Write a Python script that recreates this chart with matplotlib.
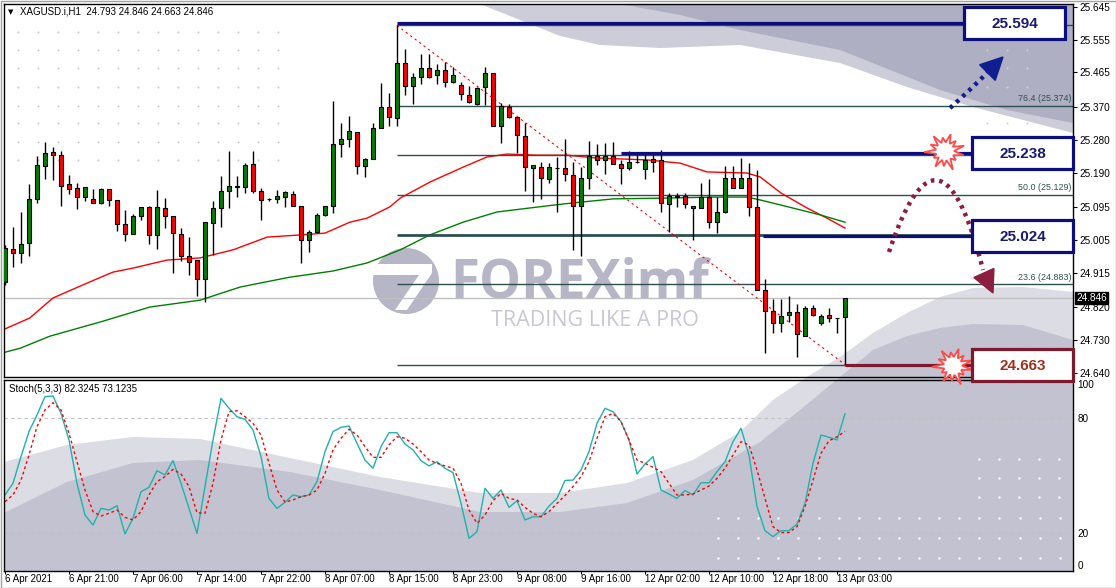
import numpy as np
import matplotlib
matplotlib.use("Agg")
import matplotlib.pyplot as plt
from matplotlib.patches import Polygon, Rectangle, Circle

plt.rcParams['font.family'] = ['Liberation Sans', 'DejaVu Sans']

# ---------------- data ----------------
opens = [24.890, 24.980, 24.969, 24.997, 25.118, 25.208, 25.247, 25.238, 25.159, 25.148,
         25.123, 25.118, 25.107, 25.145, 25.115, 25.049, 25.021, 25.071, 25.096, 25.019,
         25.093, 25.071, 25.021, 24.961, 24.950, 24.898, 25.052, 25.093, 25.140, 25.150,
         25.150, 25.214, 25.140, 25.118, 25.118, 25.123, 25.131, 25.098, 25.005, 25.027,
         25.074, 25.098, 25.269, 25.282, 25.302, 25.208, 25.227, 25.312, 25.370, 25.340,
         25.491, 25.428, 25.453, 25.477, 25.458, 25.472, 25.439, 25.431, 25.403, 25.378,
         25.425, 25.464, 25.318, 25.370, 25.343, 25.291, 25.203, 25.205, 25.172, 25.203,
         25.203, 25.183, 25.098, 25.175, 25.236, 25.225, 25.236, 25.214, 25.203, 25.219,
         25.200, 25.227, 25.225, 25.104, 25.123, 25.126, 25.098, 25.093, 25.123, 25.054,
         25.082, 25.175, 25.148, 25.175, 25.096, 24.868, 24.810, 24.777, 24.799, 24.807,
         24.741, 24.818, 24.777, 24.799, 24.791, 24.793]
highs = [24.991, 25.041, 25.082, 25.159, 25.236, 25.274, 25.260, 25.249, 25.183, 25.161,
         25.150, 25.145, 25.148, 25.145, 25.115, 25.087, 25.076, 25.096, 25.098, 25.142,
         25.120, 25.071, 25.038, 25.013, 24.950, 25.054, 25.112, 25.181, 25.249, 25.181,
         25.216, 25.249, 25.148, 25.120, 25.142, 25.140, 25.140, 25.098, 25.032, 25.079,
         25.098, 25.387, 25.326, 25.345, 25.302, 25.230, 25.326, 25.436, 25.409, 25.594,
         25.529, 25.464, 25.516, 25.516, 25.488, 25.494, 25.480, 25.439, 25.428, 25.425,
         25.480, 25.464, 25.381, 25.378, 25.343, 25.326, 25.211, 25.219, 25.216, 25.233,
         25.282, 25.219, 25.205, 25.277, 25.269, 25.271, 25.274, 25.225, 25.249, 25.238,
         25.238, 25.238, 25.252, 25.134, 25.134, 25.134, 25.098, 25.161, 25.172, 25.123,
         25.208, 25.208, 25.230, 25.216, 25.197, 24.898, 24.843, 24.843, 24.851, 24.829,
         24.824, 24.826, 24.802, 24.818, 24.792, 24.846]
lows = [24.881, 24.931, 24.942, 24.961, 25.107, 25.172, 25.170, 25.098, 25.131, 25.090,
        25.112, 25.107, 25.104, 25.098, 25.030, 25.002, 25.021, 25.060, 24.994, 24.980,
        25.038, 24.914, 24.947, 24.909, 24.851, 24.835, 24.964, 25.041, 25.093, 25.123,
        25.134, 25.134, 25.060, 25.112, 25.107, 25.096, 25.098, 24.942, 24.972, 25.024,
        25.071, 25.079, 25.233, 25.260, 25.186, 25.178, 25.227, 25.312, 25.318, 25.318,
        25.403, 25.378, 25.433, 25.450, 25.433, 25.425, 25.436, 25.389, 25.381, 25.376,
        25.376, 25.318, 25.271, 25.340, 25.244, 25.140, 25.109, 25.118, 25.161, 25.082,
        25.167, 24.978, 24.961, 25.145, 25.211, 25.186, 25.214, 25.159, 25.197, 25.216,
        25.172, 25.192, 25.082, 25.027, 25.096, 25.093, 25.005, 25.093, 25.038, 25.024,
        25.079, 25.148, 25.148, 25.071, 24.868, 24.695, 24.750, 24.752, 24.780, 24.684,
        24.741, 24.796, 24.771, 24.780, 24.750, 24.663]
closes = [24.983, 24.969, 24.994, 25.118, 25.211, 25.244, 25.238, 25.153, 25.145, 25.123,
          25.150, 25.107, 25.145, 25.115, 25.049, 25.021, 25.071, 25.096, 25.019, 25.096,
          25.071, 25.024, 24.961, 24.945, 24.898, 25.054, 25.093, 25.140, 25.153, 25.152,
          25.211, 25.140, 25.115, 25.117, 25.126, 25.137, 25.098, 25.005, 25.027, 25.074,
          25.098, 25.269, 25.282, 25.304, 25.208, 25.227, 25.312, 25.370, 25.343, 25.491,
          25.428, 25.453, 25.477, 25.453, 25.472, 25.439, 25.458, 25.406, 25.384, 25.422,
          25.464, 25.318, 25.373, 25.343, 25.293, 25.205, 25.211, 25.175, 25.205, 25.203,
          25.186, 25.098, 25.175, 25.236, 25.225, 25.236, 25.214, 25.203, 25.219, 25.220,
          25.225, 25.219, 25.107, 25.126, 25.126, 25.104, 25.093, 25.123, 25.054, 25.082,
          25.175, 25.148, 25.175, 25.096, 24.868, 24.810, 24.777, 24.796, 24.807, 24.747,
          24.818, 24.799, 24.796, 24.791, 24.791, 24.846]

ma_red_bar = [0, 3.1, 6, 10.6, 13.5, 16, 20.25, 24.4, 28.5, 32.75, 36.9, 40, 43.1, 45.25,
              48.1, 49.4, 53.1, 57.25, 60.25, 62.75, 66.5, 70.25, 74, 80.25, 84.4, 87.75,
              92.75, 94.4, 97, 100.25, 102.75, 105]
ma_red = [24.761, 24.791, 24.846, 24.890, 24.917, 24.928, 24.950, 24.956, 24.978, 25.013,
          25.019, 25.024, 25.054, 25.065, 25.096, 25.120, 25.164, 25.205, 25.233, 25.241,
          25.238, 25.238, 25.230, 25.225, 25.216, 25.192, 25.189, 25.178, 25.134, 25.093,
          25.065, 25.038]
ma_green_bar = [0, 1.9, 5.6, 11.9, 18.1, 24.4, 29.4, 35.6, 41, 45.25, 49.4, 53.1, 57.25,
                61.5, 65.6, 69.75, 76, 82.25, 88.5, 92.75, 94.4, 97, 101.9, 105]
ma_green = [24.697, 24.708, 24.741, 24.780, 24.821, 24.840, 24.876, 24.903, 24.920, 24.942,
            24.978, 25.019, 25.054, 25.082, 25.093, 25.104, 25.118, 25.120, 25.123, 25.123,
            25.115, 25.101, 25.074, 25.054]

stoch_k = [39.8, 45.9, 59.9, 73.0, 81.7, 91.3, 91.6, 82.5, 68.6, 45.9, 29.3, 24.1, 32.8, 31.9,
           34.2, 19.4, 27.6, 41.5, 43.8, 52.5, 50.3, 57.8, 45.9, 32.8, 19.7, 44.2, 68.6, 90.4,
           85.2, 80.8, 79.4, 73.8, 59.9, 38.0, 32.8, 36.0, 39.8, 38.9, 39.8, 46.8, 62.5, 73.0,
           75.2, 75.9, 66.8, 58.1, 53.8, 65.1, 72.4, 72.4, 66.5, 63.4, 57.8, 55.0, 57.2, 53.8,
           51.5, 35.4, 17.1, 20.6, 43.3, 38.0, 42.4, 33.3, 36.8, 26.7, 28.4, 28.4, 34.0, 38.0,
           47.4, 47.6, 52.9, 62.5, 77.3, 85.2, 83.4, 78.2, 68.6, 50.8, 56.0, 59.9, 42.4, 40.3,
           38.0, 42.1, 39.8, 46.2, 46.2, 52.0, 57.2, 67.7, 74.7, 60.7, 33.7, 21.1, 18.0, 21.1,
           21.1, 24.6, 35.4, 56.4, 71.2, 70.0, 68.6, 82.3]
stoch_d = [36.3, 39.8, 47.6, 60.7, 75.6, 84.3, 88.1, 84.3, 72.1, 57.2, 42.4, 31.1, 28.8, 30.2,
           31.9, 28.1, 26.7, 31.1, 39.8, 46.8, 49.4, 53.2, 50.8, 44.2, 30.5, 30.2, 45.9, 68.6,
           83.4, 83.9, 80.8, 77.3, 71.2, 56.4, 42.4, 36.1, 37.2, 38.9, 39.8, 42.4, 51.1, 63.4,
           69.5, 74.2, 71.2, 65.1, 59.5, 59.5, 66.0, 70.3, 69.5, 66.5, 62.5, 58.1, 56.4, 55.0,
           53.8, 45.9, 31.9, 25.0, 29.3, 36.8, 40.7, 38.0, 37.2, 33.3, 30.2, 28.4, 31.1, 35.4,
           39.5, 44.2, 49.4, 57.2, 69.5, 80.8, 82.5, 78.2, 68.6, 58.1, 56.4, 54.3, 52.0, 45.9,
           39.8, 39.8, 40.3, 42.4, 44.5, 48.5, 53.8, 60.7, 67.7, 66.0, 52.9, 38.0, 23.2, 20.1,
           20.1, 23.2, 33.7, 47.6, 61.6, 68.2, 70.3, 73.1]

fib_names = ["100.0", "76.4", "61.8", "50.0", "38.2", "23.6", "0.0"]
fib_levels = [25.594, 25.374, 25.238, 25.129, 25.019, 24.883, 24.663]
fib_shown = ["76.4", "50.0", "23.6"]   # the other labels sit under the boxes
swing_bars = [49, 105]
swing_prices = [25.594, 24.663]

target_labels = ["25.594", "25.238", "25.024", "24.663"]
target_lines = [25.600, 25.243, 25.016, 24.662]
target_from = [49, 77, 94.7, 105]

last_price = 24.846
price_ticks = [25.645, 25.555, 25.465, 25.370, 25.280, 25.190, 25.095, 25.005,
               24.915, 24.820, 24.730, 24.640]
time_labels = ["6 Apr 2021", "6 Apr 21:00", "7 Apr 06:00", "7 Apr 14:00", "7 Apr 22:00",
               "8 Apr 07:00", "8 Apr 15:00", "8 Apr 23:00", "9 Apr 08:00", "9 Apr 16:00",
               "12 Apr 02:00", "12 Apr 10:00", "12 Apr 18:00", "13 Apr 03:00"]

# ---------------- layout ----------------
W, H = 1116, 588
fig = plt.figure(figsize=(W / 100, H / 100), dpi=100, facecolor='white')


def frac(x0, y0, x1, y1):
    return [x0 / W, 1 - y1 / H, (x1 - x0) / W, (y1 - y0) / H]


bg = fig.add_axes([0, 0, 1, 1], zorder=0)
bg.set_xlim(0, W)
bg.set_ylim(H, 0)
bg.axis('off')

ax = fig.add_axes(frac(4, 4, 1073, 377), zorder=2)
st = fig.add_axes(frac(4, 380, 1073, 571), zorder=2)
ov = fig.add_axes([0, 0, 1, 1], zorder=5)
ov.set_xlim(0, W)
ov.set_ylim(H, 0)
ov.axis('off')

XMIN, XMAX = -0.125, 133.5

# ---------------- background watermark ----------------
top_light = [(480, 4), (520, 20), (560, 36), (600, 45), (660, 48), (740, 45), (840, 63),
             (907, 87), (973, 107), (1073, 133), (1073, 4)]
top_dark = [(620, 4), (680, 15), (740, 30), (840, 50), (940, 90), (1007, 110),
            (1073, 123), (1073, 4)]
bot_light = [(4, 462), (67, 445), (133, 437), (200, 439), (290, 458), (380, 477), (480, 493),
             (560, 493), (627, 483), (693, 460), (740, 432), (773, 400), (807, 377),
             (840, 357), (873, 333), (907, 313), (940, 297), (973, 288), (1023, 287),
             (1073, 292), (1073, 571), (4, 571)]
bot_dark = [(4, 513), (67, 482), (133, 463), (200, 460), (290, 472), (380, 490), (480, 512),
            (560, 512), (627, 503), (693, 480), (760, 442), (800, 410), (840, 377),
            (873, 350), (907, 336), (940, 328), (973, 324), (1023, 325), (1073, 340),
            (1073, 571), (4, 571)]
bg.add_patch(Polygon(top_light, closed=True, fc='#cdcdda', ec='none'))
bg.add_patch(Polygon(top_dark, closed=True, fc='#afafc3', ec='none'))
bg.add_patch(Polygon(bot_light, closed=True, fc='#dcdce5', ec='none'))
bg.add_patch(Polygon(bot_dark, closed=True, fc='#c2c2d1', ec='none'))

# dotted decoration
gx, gy = np.meshgrid(np.arange(18, 280, 20), [32, 50, 68, 87, 106, 123, 142, 160])
bg.scatter(gx.ravel(), gy.ravel(), s=2, c='#c8c8d2', lw=0)
gx, gy = np.meshgrid([987, 1007, 1027], [50, 68, 87, 123])
bg.scatter(gx.ravel(), gy.ravel(), s=2, c='#d0d0dc', lw=0)
gx, gy = np.meshgrid(np.arange(979, 1062, 20), [459, 478, 497])
bg.scatter(gx.ravel(), gy.ravel(), s=3, c='white', lw=0)
gx, gy = np.meshgrid(np.arange(718, 1062, 20.1), [518, 538, 558])
bg.scatter(gx.ravel(), gy.ravel(), s=3, c='white', lw=0)

# logo
bg.add_patch(Circle((406, 281), 33, fc='#b6b6c6', ec='none'))
bg.add_patch(Polygon([(374, 264), (432, 264), (432, 273), (407, 310), (395, 310),
                      (419, 275), (374, 275)], closed=True, fc='white', ec='none'))
bg.text(580, 283, "FOREXimf", fontsize=38, fontweight='bold', family='Open Sans',
        color='#b6b6c6', ha='center', va='center')
bg.text(595, 320, "TRADING LIKE A PRO", fontsize=15.5, family='Open Sans',
        color='#c8c8d4', ha='center', va='center')

# ---------------- main price panel ----------------
ax.set_facecolor('none')
x = np.arange(len(opens))
o = np.array(opens)
c = np.array(closes)
body_col = np.where(c >= o, '#008000', '#ff0000')

ax.axhline(last_price, color='#c0c0c0', lw=1, zorder=1)
ax.plot(ma_red_bar, ma_red, color='#ff0000', lw=1, zorder=2)
ax.plot(ma_green_bar, ma_green, color='#008000', lw=1, zorder=2)

for name, lvl in zip(fib_names, fib_levels):
    ax.hlines(lvl, swing_bars[0], XMAX, color='#2f4f4f', lw=2 if name == "38.2" else 1,
              zorder=2)
    if name in fib_shown:
        ax.text(XMAX - 0.15, lvl + 0.008, f"{name} ({lvl:.3f})", ha='right', va='bottom',
                fontsize=6.4, color='#2f4f4f', zorder=2)
ax.plot(swing_bars, swing_prices, color='#ff0000', lw=0.8, ls=(0, (2, 3)), zorder=2)

ax.vlines(x, lows, highs, color='black', lw=1, zorder=3)
ax.bar(x, np.abs(c - o), bottom=np.minimum(o, c), width=0.62, color=body_col,
       edgecolor='black', linewidth=0.8, zorder=4)

for lbl, lvl, x0 in zip(target_labels, target_lines, target_from):
    col = '#7d1a2d' if lbl == "24.663" else '#0d0d7d'
    ax.hlines(lvl, x0, 121, color=col, lw=2.3, zorder=5)

ax.set_xlim(XMIN, XMAX)
ax.set_ylim(24.629, 25.653)
ax.set_xticks([])
ax.yaxis.tick_right()
ax.set_yticks(price_ticks)
ax.set_yticklabels([f"{p:.3f}" for p in price_ticks])
ax.tick_params(axis='y', length=3, labelsize=7.2, pad=1.5, colors='black')
for s in ax.spines.values():
    s.set_linewidth(1)
ax.text(1.003, last_price, f"{last_price:.3f}", transform=ax.get_yaxis_transform(),
        ha='left', va='center', color='white', fontsize=7.2, zorder=10,
        bbox=dict(boxstyle='square,pad=0.12', fc='black', ec='black'))

# ---------------- stochastic panel ----------------
st.set_facecolor('none')
st.axhline(80, color='#c0c0c0', lw=0.8, ls=(0, (3, 3)))
st.axhline(20, color='#c0c0c0', lw=0.8, ls=(0, (3, 3)))
st.plot(x, stoch_k, color='#20b2aa', lw=1)
st.plot(x, stoch_d, color='#ff0000', lw=1, ls=(0, (2, 2)))
st.set_xlim(XMIN, XMAX)
st.set_ylim(0, 100)
st.yaxis.tick_right()
st.set_yticks([0, 20, 80, 100])
st.set_yticklabels(["0", "20", "80", "100"])
lbls = st.get_yticklabels()
lbls[0].set_va('bottom')
lbls[3].set_va('top')
st.tick_params(axis='y', length=0, labelsize=7.2, pad=3)
tick_bars = np.arange(0, len(opens), 8)
st.set_xticks(tick_bars)
st.set_xticklabels(time_labels, ha='left')
st.tick_params(axis='x', length=2, labelsize=7, pad=0.5)
for s in st.spines.values():
    s.set_linewidth(1)

# ---------------- overlay: titles, boxes, arrows ----------------
ov.text(8, 12, "\u25bc", fontsize=5, va='center', ha='left', family='DejaVu Sans')
ov.text(20, 12, "XAGUSD.i,H1  24.793 24.846 24.663 24.846", fontsize=7, va='center',
        ha='left')
ov.text(9, 389, "Stoch(5,3,3) 82.3245 73.1235", fontsize=7, va='center', ha='left')


def px(xb, p):
    X, Y = ax.transData.transform((xb, p))
    return X, H - Y


def star(cx, cy, scale, color):
    r_out = [19, 14, 20, 15, 18, 13, 21, 16, 19, 14, 18, 15, 20]
    n = len(r_out)
    pts = []
    for k in range(n):
        a = 2 * np.pi * k / n + 0.2
        pts.append((cx + scale * r_out[k] * np.cos(a), cy + scale * r_out[k] * np.sin(a)))
        a2 = a + np.pi / n
        pts.append((cx + scale * 9 * np.cos(a2), cy + scale * 9 * np.sin(a2)))
    ov.add_patch(Polygon(pts, closed=True, fc='white', ec=color, lw=1.3, zorder=6))


def dotted_curve(p0, p1, p2, color):
    t = np.linspace(0, 1, 60)
    bx = (1 - t) ** 2 * p0[0] + 2 * (1 - t) * t * p1[0] + t ** 2 * p2[0]
    by = (1 - t) ** 2 * p0[1] + 2 * (1 - t) * t * p1[1] + t ** 2 * p2[1]
    ov.plot(bx, by, color=color, lw=3.2, ls=(0, (0.8, 1.1)), dash_capstyle='butt',
            zorder=6)


def head(tip, frm, color, length=22, half=11):
    d = np.array(tip, float) - np.array(frm, float)
    d /= np.hypot(*d)
    n = np.array([-d[1], d[0]])
    base = np.array(tip) - length * d
    ov.add_patch(Polygon([tip, base + half * n, base - half * n], closed=True,
                         fc=color, ec=color, zorder=6))


# boxes
for i, (lbl, lvl) in enumerate(zip(target_labels, target_lines)):
    _, yc = px(0, lvl)
    x0, x1 = (964, 1065) if i == 0 else (972, 1073)
    maroon = lbl == "24.663"
    ec = '#7d1a2d' if maroon else '#0d0d7d'
    tc = '#a1301f' if maroon else '#1a1a72'
    ov.add_patch(Rectangle((x0, yc - 16), x1 - x0, 32, fc='white', ec=ec, lw=2.3, zorder=7))
    ov.text((x0 + x1) / 2, yc + 1, lbl, ha='center', va='center', fontsize=11,
            fontweight='bold', color=tc, zorder=8)

_, y_a = px(0, target_lines[1])
star(945, y_a - 2, 1.0, '#ff4a4a')
_, y_b = px(0, target_lines[3])
star(953, y_b + 1, 1.0, '#ff4a4a')

navy_dots = '#0f1f8f'
dotted_curve((950, 108), (968, 92), (989, 71), navy_dots)
head((1003, 57), (986, 74), navy_dots)
maroon_dots = '#8b1f3f'
dotted_curve((889, 252), (940, 100), (983, 270), maroon_dots)
head((993, 293), (983, 271), maroon_dots)

# outer frame
bg.add_patch(Rectangle((0.5, 0.5), W - 1, H - 1, fc='none', ec='#a0a0a0', lw=1))

fig.savefig("out.png", dpi=100)
